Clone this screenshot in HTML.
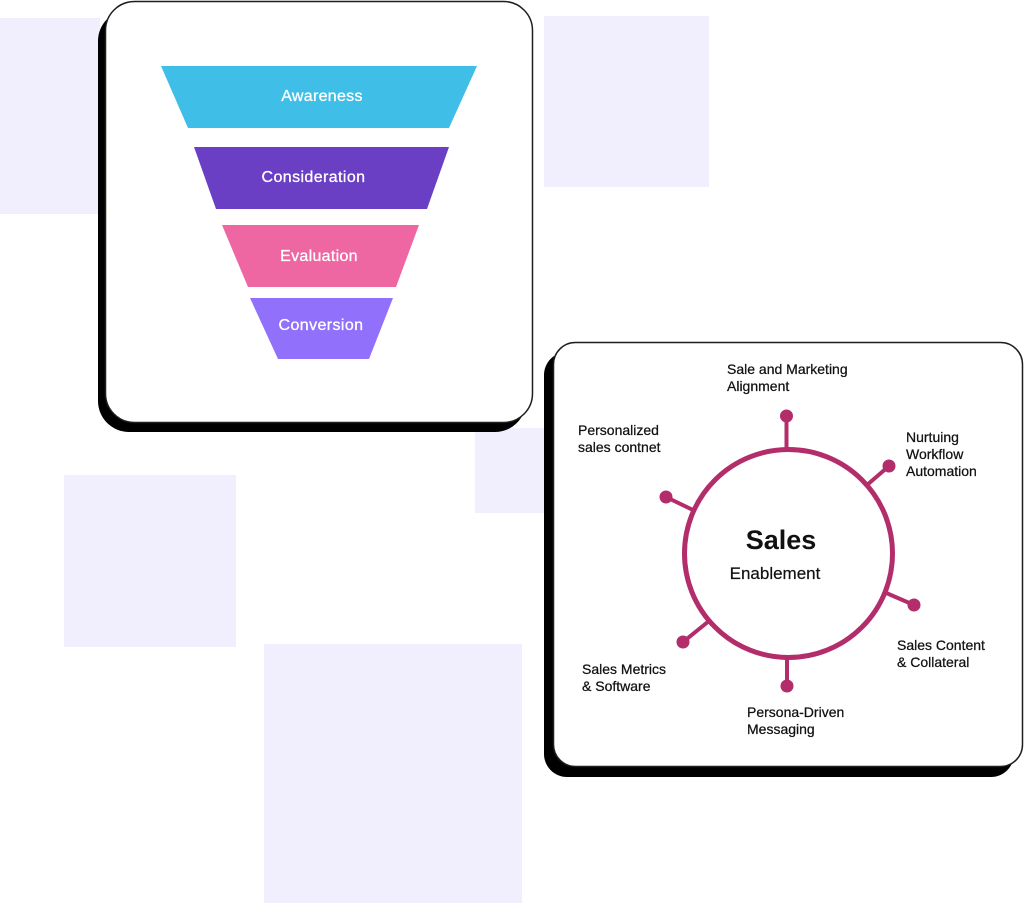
<!DOCTYPE html>
<html><head><meta charset="utf-8"><style>
html,body{margin:0;padding:0;background:#fff;}
svg{display:block;}
text{font-family:"Liberation Sans",sans-serif;}
</style></head><body>
<svg width="1024" height="903" viewBox="0 0 1024 903" xmlns="http://www.w3.org/2000/svg">
<!-- background squares -->
<rect x="0" y="18" width="100" height="196" fill="#f1effd"/>
<rect x="544" y="16" width="165" height="171" fill="#f1effd"/>
<rect x="475" y="428" width="80" height="85" fill="#f1effd"/>
<rect x="64" y="475" width="172" height="172" fill="#f1effd"/>
<rect x="264" y="644" width="258" height="259" fill="#f1effd"/>

<!-- card 1 -->
<rect x="98" y="10" width="428" height="422" rx="31" fill="#000"/>
<rect x="105.5" y="1.5" width="427" height="421" rx="29" fill="#fff" stroke="#1e1e1e" stroke-width="1.5"/>

<polygon points="161,66 477,66 449,128 188,128" fill="#3fbee8"/>
<polygon points="194,147 449,147 427,209 216,209" fill="#6a3fc4"/>
<polygon points="222,225 419,225 396,287 248,287" fill="#ee67a3"/>
<polygon points="250,298 393,298 369,359 278,359" fill="#9170fb"/>
<g fill="#fff" stroke="#fff" stroke-width="0.3" font-size="16" text-anchor="middle">
<text x="322" y="101" letter-spacing="0.3">Awareness</text>
<text x="313.5" y="182" letter-spacing="0.4">Consideration</text>
<text x="319" y="261" letter-spacing="0.3">Evaluation</text>
<text x="321" y="330" letter-spacing="0.4">Conversion</text>
</g>

<!-- card 2 -->
<rect x="544" y="352" width="470" height="425" rx="23" fill="#000"/>
<rect x="553.5" y="342.5" width="469" height="424" rx="22" fill="#fff" stroke="#1e1e1e" stroke-width="1.5"/>

<g stroke="#b32d6b" stroke-width="4" fill="none">
<circle cx="788.5" cy="553.5" r="104" stroke-width="5"/>
<line x1="786.5" y1="449" x2="786.5" y2="416"/>
<line x1="867" y1="485" x2="889" y2="466"/>
<line x1="693" y1="510" x2="666" y2="497"/>
<line x1="884" y1="592" x2="914" y2="605"/>
<line x1="709" y1="621" x2="683" y2="642"/>
<line x1="787" y1="658" x2="787" y2="686"/>
</g>
<g fill="#b32d6b">
<circle cx="786.5" cy="416" r="6.5"/>
<circle cx="889" cy="466" r="6.5"/>
<circle cx="666" cy="497" r="6.5"/>
<circle cx="914" cy="605" r="6.5"/>
<circle cx="683" cy="642" r="6.5"/>
<circle cx="787" cy="686" r="6.5"/>
</g>

<text x="781" y="549" font-size="27" font-weight="bold" text-anchor="middle" fill="#111">Sales</text>
<text x="775" y="579" font-size="17" text-anchor="middle" fill="#111" stroke="#111" stroke-width="0.2">Enablement</text>

<g font-size="14" fill="#111" stroke="#111" stroke-width="0.25">
<text x="727" y="374">Sale and Marketing</text>
<text x="727" y="391">Alignment</text>
<text x="578" y="435">Personalized</text>
<text x="578" y="452">sales contnet</text>
<text x="906" y="442">Nurtuing</text>
<text x="906" y="459">Workflow</text>
<text x="906" y="476">Automation</text>
<text x="897" y="650">Sales Content</text>
<text x="897" y="667">&amp; Collateral</text>
<text x="582" y="674">Sales Metrics</text>
<text x="582" y="691">&amp; Software</text>
<text x="747" y="717">Persona-Driven</text>
<text x="747" y="734">Messaging</text>
</g>
</svg>
</body></html>
